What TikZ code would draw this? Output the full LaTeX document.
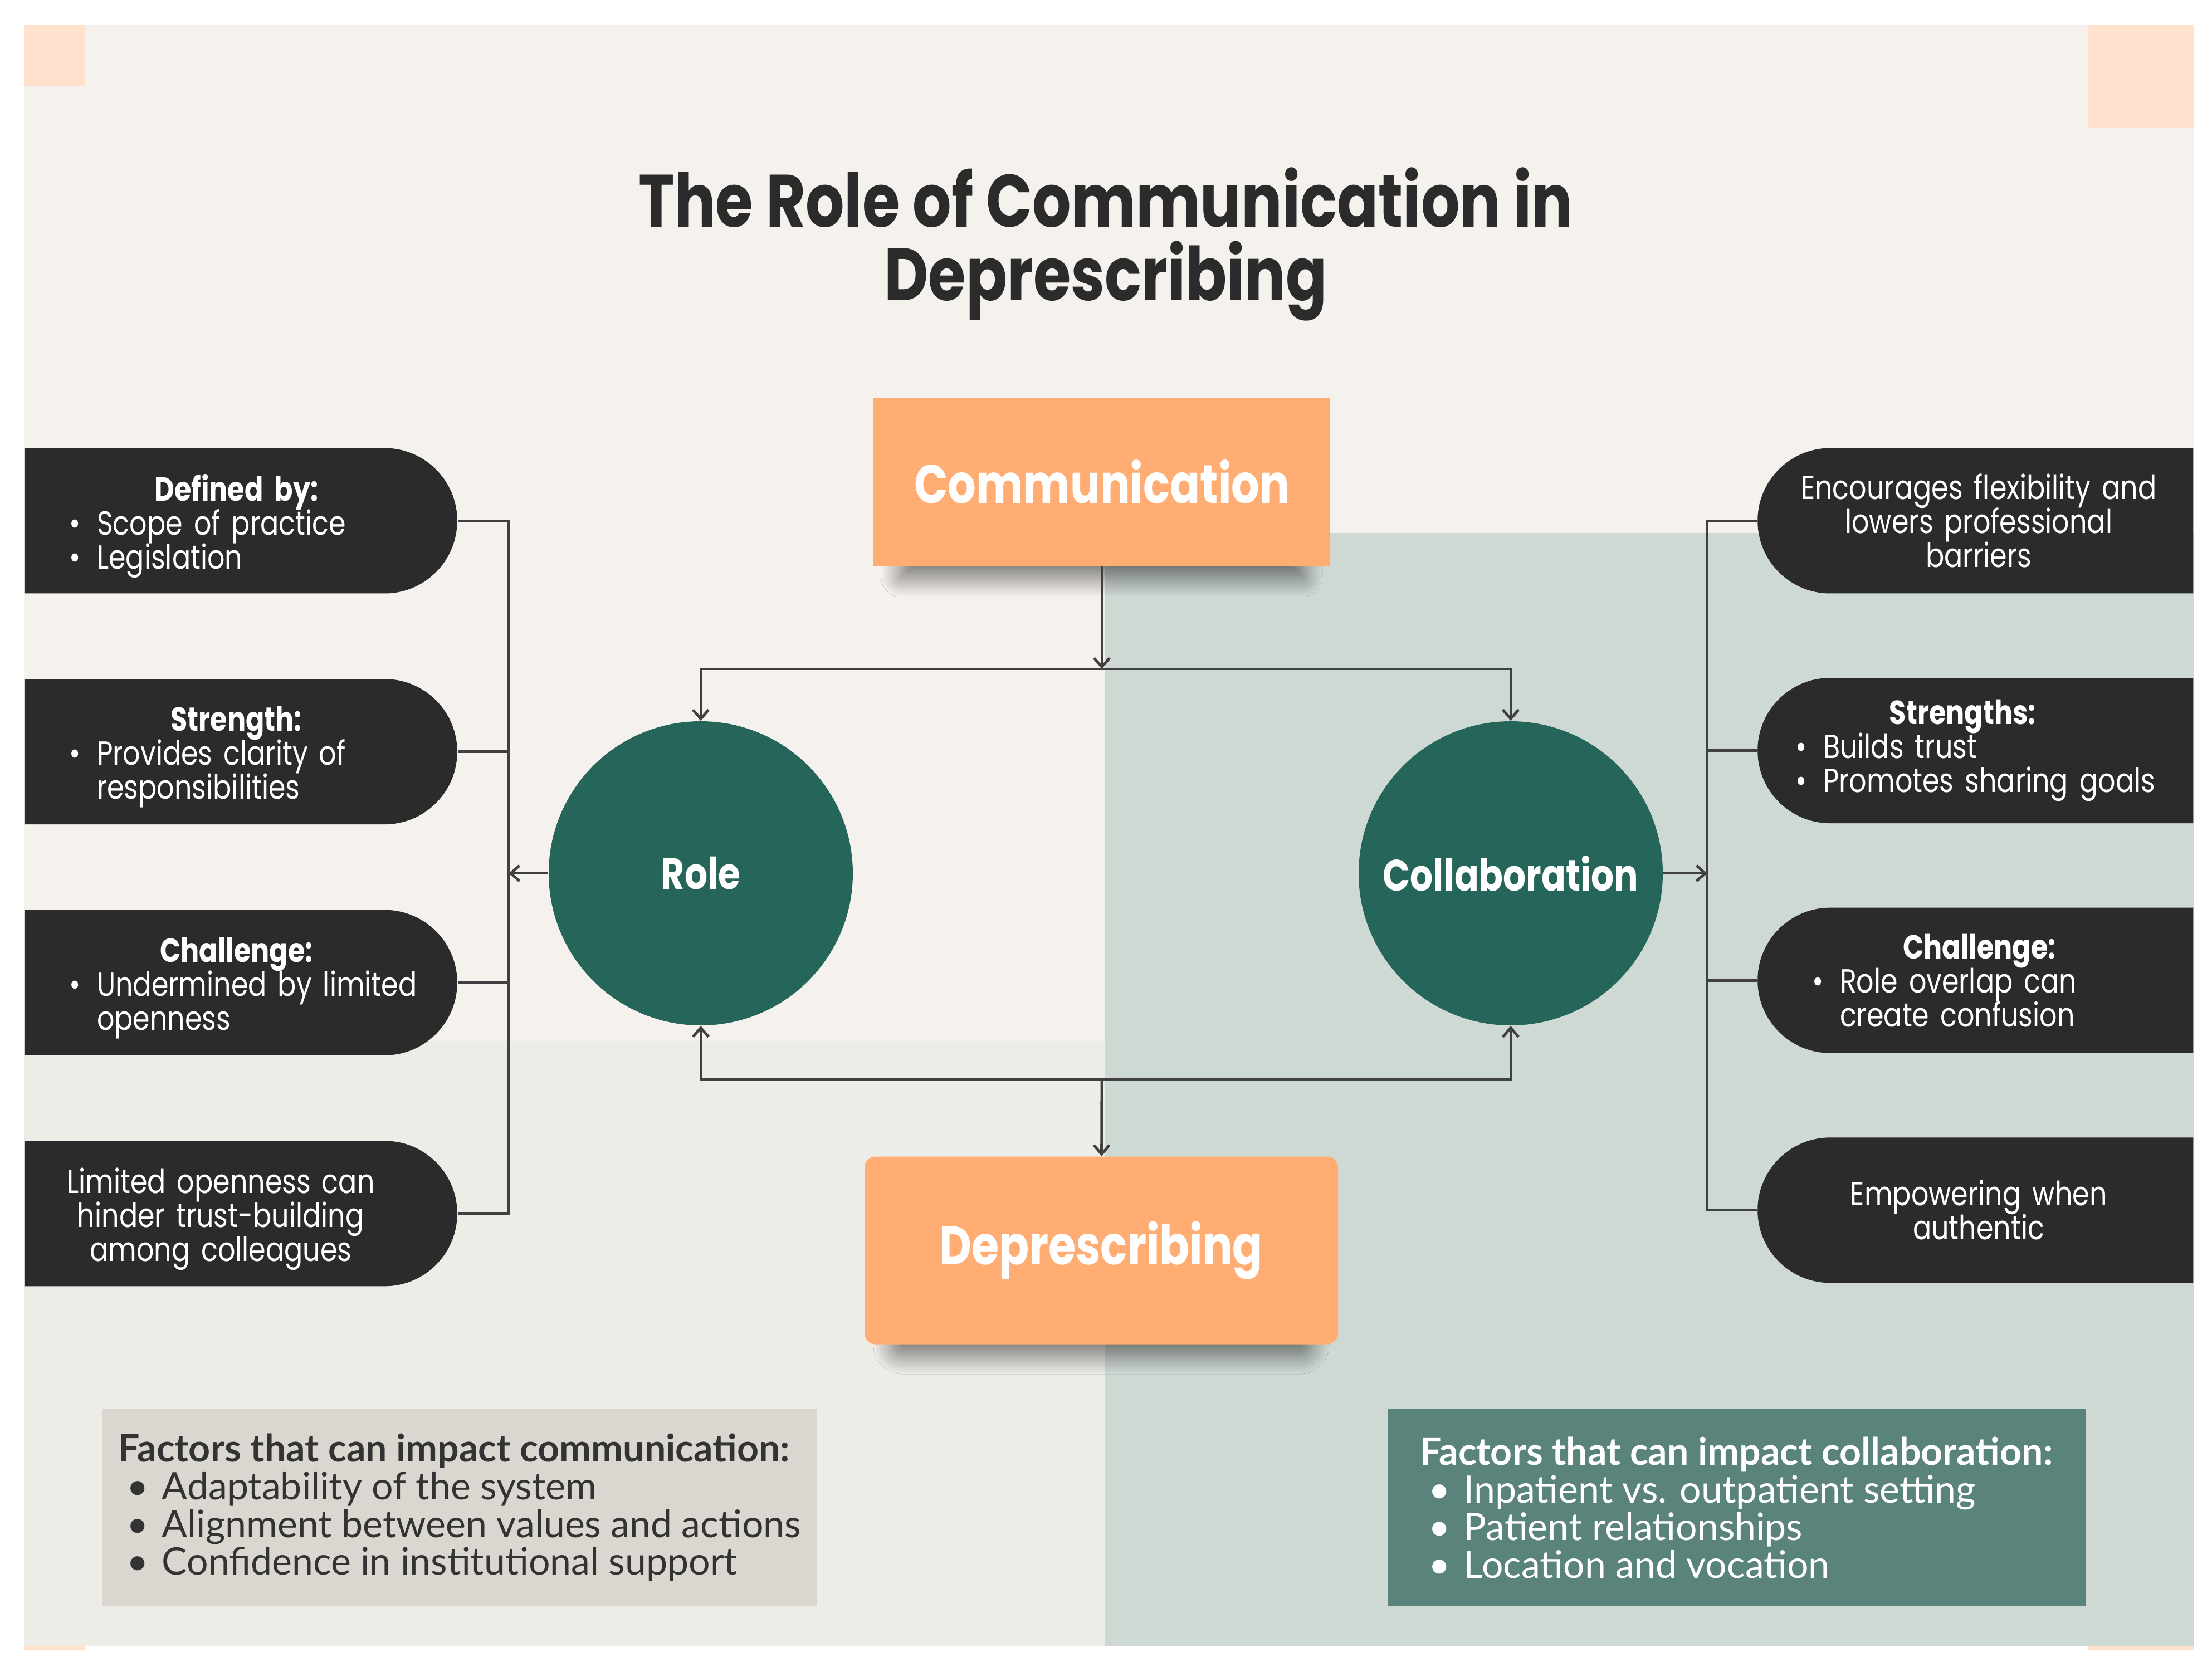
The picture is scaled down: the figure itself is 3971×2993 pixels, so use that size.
\documentclass[tikz,border=0pt]{standalone}
\usepackage{fontspec}
\setmainfont{Lato}
\newfontfamily\pillfont[FakeStretch=0.82]{Poppins}
\usepackage{xcolor}
\usetikzlibrary{shapes.misc,arrows.meta,positioning,shadows.blur}

\definecolor{panelbg}{RGB}{245,242,238}
\definecolor{lowbg}{RGB}{238,236,231}
\definecolor{sagebg}{RGB}{207,217,212}
\definecolor{peach}{RGB}{255,225,205}
\definecolor{orangebox}{RGB}{255,173,115}
\definecolor{tealc}{RGB}{38,102,90}
\definecolor{pilldark}{RGB}{43,43,43}
\definecolor{greybox}{RGB}{218,214,208}
\definecolor{sagebox}{RGB}{90,131,123}
\definecolor{inkc}{RGB}{51,51,51}
\definecolor{linec}{RGB}{64,64,64}

\newcommand{\phead}[1]{{\centering\bfseries #1\par}}
\newcommand{\pitem}[1]{\par\noindent\makebox[0.83em][l]{\textbullet}\mbox{#1}}
\newcommand{\pcont}[1]{\par\noindent\hspace*{0.83em}\mbox{#1}}
\newcommand{\fitem}[1]{\\\hspace*{0.22em}\makebox[0.93em][l]{\textbullet}#1}

\tikzset{
  pillbox/.style={rounded rectangle, fill=pilldark, minimum width=194.25pt,
                  minimum height=65.25pt, inner sep=0pt},
  pillleft/.style={pillbox, rounded rectangle left arc=none},
  pillright/.style={pillbox, rounded rectangle right arc=none, minimum width=195.5pt},
  pilltext/.style={text=white, text width=150pt, align=left, inner sep=0pt,
                   execute at begin node={\setlength\parindent{0pt}\lineskiplimit=-\maxdimen},
                   font=\pillfont\fontsize{15pt}{15.25pt}\selectfont},
  textleft/.style={pilltext, xshift=-2pt, yshift=-2.5pt},
  textright/.style={pilltext, xshift=-5.75pt},
  hubbox/.style={rectangle, fill=orangebox, text=white, inner sep=0pt,
                 font=\pillfont\bfseries\fontsize{24.3pt}{30pt}\selectfont,
                 blur shadow={shadow xshift=0pt, shadow yshift=-11pt, shadow blur radius=10pt,
                              shadow blur steps=24, shadow opacity=55, shadow scale=0.88}},
  hubcircle/.style={circle, fill=tealc, text=white, minimum size=136.5pt, inner sep=0pt,
                    font=\pillfont\bfseries\fontsize{19.7pt}{24pt}\selectfont},
  factorbox/.style={rectangle, align=left, minimum height=88.5pt, inner sep=0pt,
                    font=\fontsize{17pt}{16.9pt}\selectfont},
  linkline/.style={draw=linec, line width=1.2pt},
  linkarr/.style={linkline, -{Straight Barb[length=4pt,width=7pt]}},
}

\begin{document}
\begin{tikzpicture}[x=0.25pt, y=-0.25pt]
  \useasboundingbox (0,0) rectangle (3971,2993);
  % backdrop
  \fill[white] (0,0) rectangle (3971,2993);
  \fill[panelbg] (43,45) rectangle (3938,2955);
  \fill[lowbg] (43,1869) rectangle (1983,2955);
  \fill[sagebg] (1983,957) rectangle (3938,2955);
  \fill[peach] (43,45) rectangle (152,154);
  \fill[peach] (3748,45) rectangle (3938,229);
  \fill[peach] (43,2955) rectangle (152,2962);
  \fill[peach] (3748,2955) rectangle (3938,2962);

  \node[font=\pillfont\bfseries\fontsize{33.3pt}{33pt}\selectfont, text=pilldark, align=center]
    (title) at (1985,438) {The Role of Communication in\\Deprescribing};

  \node[hubbox, minimum width=205pt, minimum height=75.5pt] (comm) at (1978,865) {Communication};
  \node[hubbox, rounded corners=5pt, minimum width=212.5pt, minimum height=84.25pt]
    (depr) at (1977,2245) {Deprescribing};
  \node[hubcircle] (role) at (1258,1568) {Role};
  \node[hubcircle] (collab) at (2712,1568) {Collaboration};

  % left pills
  \node[pillleft, anchor=west] (pl1) at (43,935) {};
  \node[pillleft, below=38pt of pl1] (pl2) {};
  \node[pillleft, below=38pt of pl2] (pl3) {};
  \node[pillleft, below=38pt of pl3] (pl4) {};
  \node[textleft] (tl1) at (pl1) {\phead{Defined by:}\pitem{Scope of practice}\pitem{Legislation}};
  \node[textleft] (tl2) at (pl2) {\phead{Strength:}\pitem{Provides clarity of}\pcont{responsibilities}};
  \node[textleft] (tl3) at (pl3) {\phead{Challenge:}\pitem{Undermined by limited}\pcont{openness}};
  \node[textleft, align=center, text width=175pt, xshift=-7pt] (tl4) at (pl4)
    {Limited openness can\\hinder trust-building\\among colleagues};

  % right pills
  \node[pillright, anchor=east] (pr1) at (3938,935) {};
  \node[pillright, below=37.5pt of pr1] (pr2) {};
  \node[pillright, below=37.5pt of pr2] (pr3) {};
  \node[pillright, below=37.5pt of pr3] (pr4) {};
  \node[textright, align=center, text width=175pt, xshift=7.25pt] (tr1) at (pr1)
    {Encourages flexibility and\\lowers professional\\barriers};
  \node[textright] (tr2) at (pr2) {\phead{Strengths:}\pitem{Builds trust}\pitem{Promotes sharing goals}};
  \node[textright, xshift=7.5pt] (tr3) at (pr3) {\phead{Challenge:}\pitem{Role overlap can}\pcont{create confusion}};
  \node[textright, align=center, text width=175pt, xshift=7.25pt] (tr4) at (pr4)
    {Empowering when\\authentic};

  % factor boxes
  \node[factorbox, fill=greybox, text=inkc, minimum width=320.75pt, anchor=north west]
    (fcomm) at (183,2529) {\textbf{Factors that can impact communication:}%
    \fitem{Adaptability of the system}\fitem{Alignment between values and actions}%
    \fitem{Confidence in institutional support}};
  \node[factorbox, fill=sagebox, text=white, minimum width=313.25pt, anchor=north west]
    (fcoll) at (2490,2529) {\textbf{Factors that can impact collaboration:}%
    \fitem{Inpatient vs. outpatient setting}\fitem{Patient relationships}%
    \fitem{Location and vocation}};

  % connectors
  \coordinate (hubtop) at (1978,1201);
  \coordinate (hubbot) at (1978,1938);
  \coordinate (lbus) at (913,1568);
  \coordinate (rbus) at (3065,1568);
  \draw[linkarr] (comm) -- (hubtop);
  \draw[linkarr] (hubtop) -| (role);
  \draw[linkarr] (hubtop) -| (collab);
  \draw[linkarr] (hubbot) -| (role);
  \draw[linkarr] (hubbot) -| (collab);
  \draw[linkarr] (hubbot) -- (depr);
  \draw[linkarr] (role) -- (lbus);
  \draw[linkarr] (collab) -- (rbus);
  \draw[linkline] (pl1.east) -- (pl1.east -| lbus) -- (pl4.east -| lbus) -- (pl4.east);
  \draw[linkline] (pl2.east) -- (pl2.east -| lbus);
  \draw[linkline] (pl3.east) -- (pl3.east -| lbus);
  \draw[linkline] (pr1.west) -- (pr1.west -| rbus) -- (pr4.west -| rbus) -- (pr4.west);
  \draw[linkline] (pr2.west) -- (pr2.west -| rbus);
  \draw[linkline] (pr3.west) -- (pr3.west -| rbus);
\end{tikzpicture}
\end{document}
